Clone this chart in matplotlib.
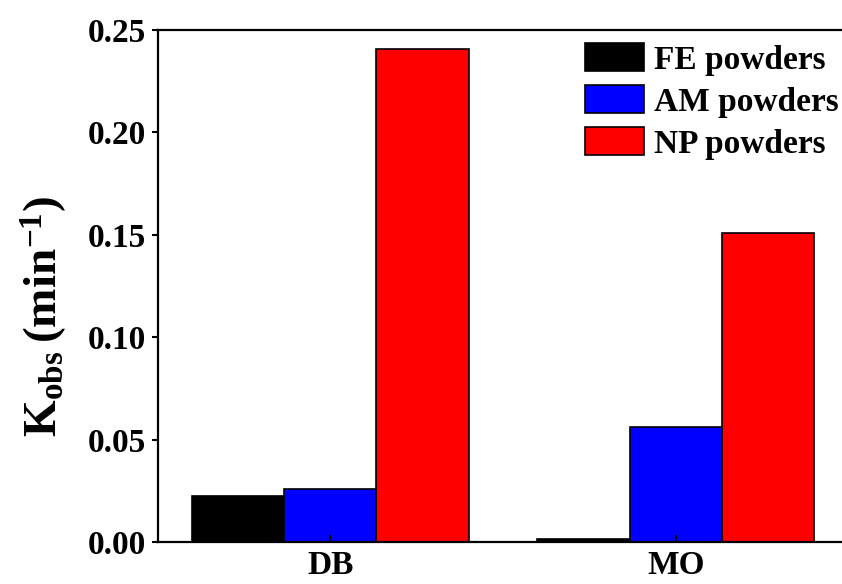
import numpy as np
import matplotlib.pyplot as plt

plt.rcParams['font.family'] = 'Liberation Serif'
plt.rcParams['font.weight'] = 'bold'
plt.rcParams['mathtext.fontset'] = 'custom'
plt.rcParams['mathtext.rm'] = 'Liberation Serif:bold'
plt.rcParams['mathtext.bf'] = 'Liberation Serif:bold'

# data
dyes = ['DB', 'MO']
fe = [0.0224, 0.0015]   # FE powders
am = [0.0258, 0.0560]   # AM powders
np_ = [0.2408, 0.1508]  # NP powders
labels = ['FE powders', 'AM powders', 'NP powders']
colors = ['black', 'blue', 'red']

fig = plt.figure(figsize=(8.42, 5.84), dpi=100)
ax = fig.add_axes([0.1871, 0.0719, 0.8206, 0.8767])

x = np.arange(len(dyes))
w = 0.267
for i, (vals, lab, c) in enumerate(zip([fe, am, np_], labels, colors)):
    ax.bar(x + (i - 1) * w, vals, w, color=c, edgecolor='black', linewidth=1.2, label=lab)

ax.set_xlim(-0.5, 1.5)
ax.set_ylim(0, 0.25)
ax.set_yticks(np.arange(0, 0.251, 0.05))
ax.set_yticklabels(['%.2f' % v for v in np.arange(0, 0.251, 0.05)])
ax.set_xticks(x)
ax.set_xticklabels(dyes)
ax.tick_params(axis='y', direction='out', length=4, width=1.5, labelsize=24, pad=4)
ax.tick_params(axis='x', direction='in', length=5, width=1.5, labelsize=24, pad=6)
for s in ax.spines.values():
    s.set_linewidth(1.6)

ax.set_ylabel(r'$\mathbf{K_{obs}\,(min^{-1})}$', fontsize=34)
ax.yaxis.set_label_coords(-0.128, 0.44)

ax.legend(loc='upper left', bbox_to_anchor=(0.619, 0.975), frameon=False, fontsize=24,
          handlelength=1.76, handleheight=0.94, handletextpad=0.3, labelspacing=0.28,
          borderaxespad=0, borderpad=0)

fig.savefig('out.png', dpi=100)
